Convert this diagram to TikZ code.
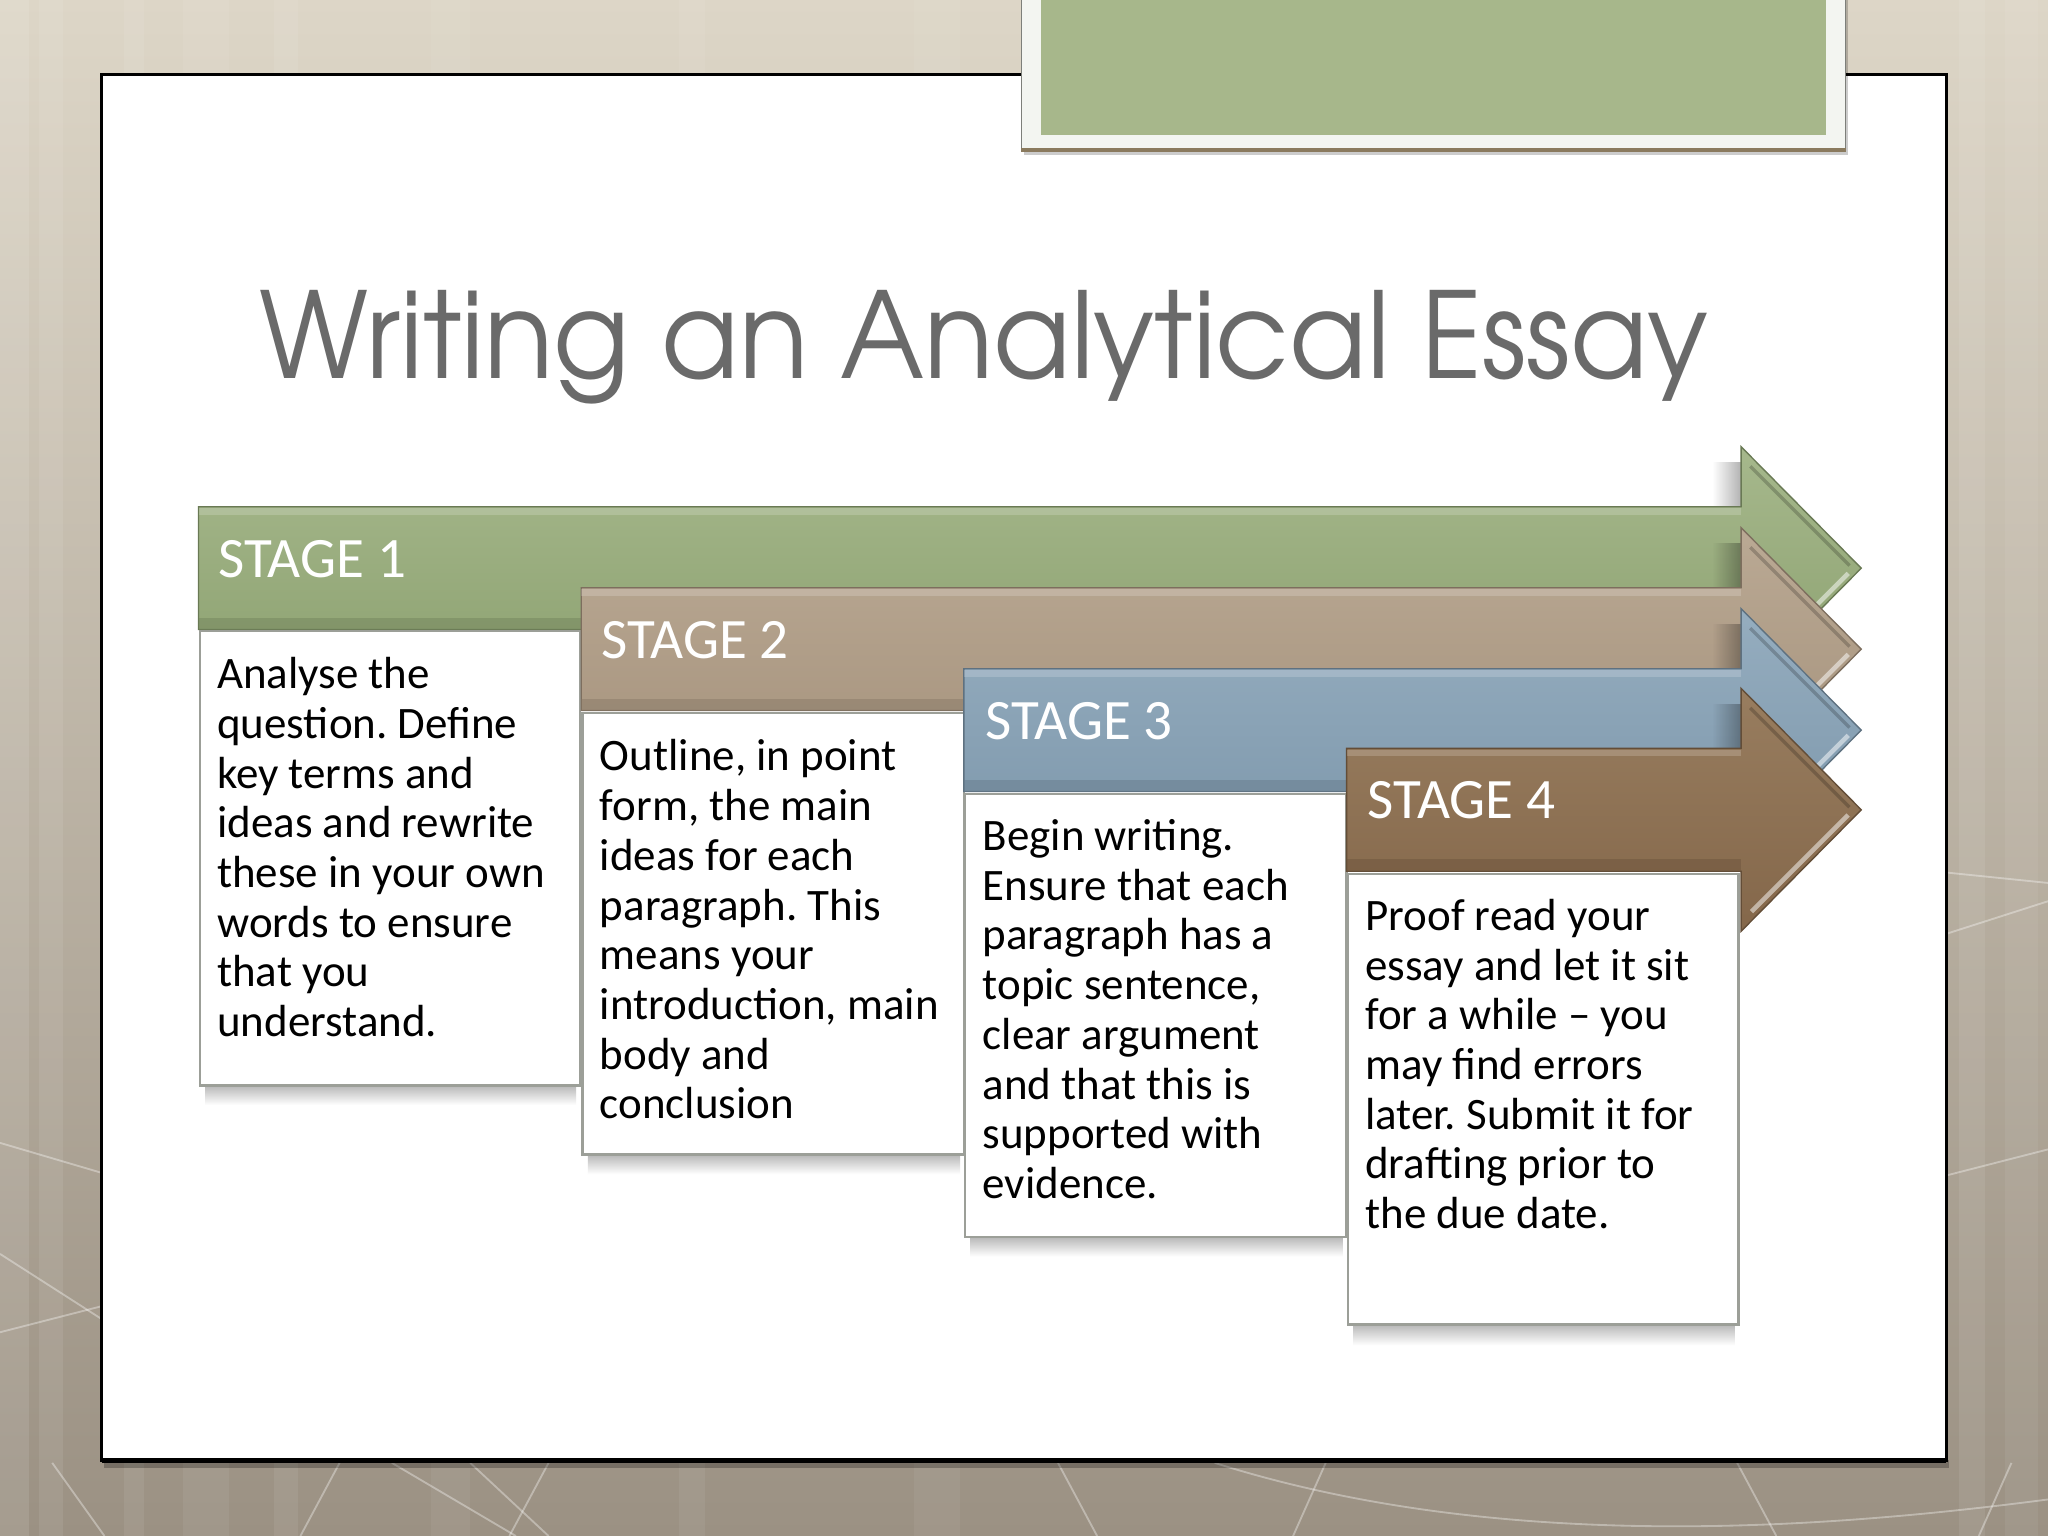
\documentclass[tikz,border=0pt]{standalone}
\usepackage{fontspec}
\setmainfont{Carlito}
\newfontfamily\titlefont[Extension=.otf]{texgyreadventor-regular}
\usetikzlibrary{fadings}
\frenchspacing
\definecolor{bgtop}{HTML}{DDD6C7}
\definecolor{bgbot}{HTML}{9B9183}
\definecolor{titlegray}{HTML}{6A6A6A}
\definecolor{greenA}{HTML}{A6B88C}
\definecolor{greenB}{HTML}{8CA170}
\definecolor{tanA}{HTML}{BAA994}
\definecolor{tanB}{HTML}{A6937D}
\definecolor{blueA}{HTML}{95ADBF}
\definecolor{blueB}{HTML}{7D97AB}
\definecolor{brownA}{HTML}{987D5F}
\definecolor{brownB}{HTML}{84674A}
\definecolor{boxline}{HTML}{9C9F98}
\definecolor{topgreen}{HTML}{A7B78B}
\definecolor{topframe}{HTML}{F3F5F1}
\definecolor{topedge}{HTML}{8A7A5E}
\tikzfading[name=fadeR, left color=transparent!100, right color=transparent!0]
\newcommand\bodysize{\fontsize{19.6pt}{21.66pt}\selectfont\frenchspacing}
\newcommand\stagesize{\fontsize{24.9pt}{28pt}\selectfont}
\newcommand\stagearrow[4]{%
  \fill[black,opacity=0.3,path fading=fadeR] (1311,{#2-34}) rectangle (1333,{#2+2});
  \shadedraw[top color=#3,bottom color=#4,draw=#4!75!black,line width=0.6pt]
    (#1,#2) -- (1333,#2) -- (1333,{#2-46}) -- (1425,{#2+47}) -- (1333,{#2+140})
    -- (1333,{#2+94}) -- (#1,{#2+94}) -- cycle;
  \fill[#4!80!black,opacity=0.45] (#1,{#2+85}) rectangle (1333,{#2+94});
  \fill[white,opacity=0.18] (#1,{#2+1}) rectangle (1333,{#2+6});
  \draw[white,opacity=0.5,line width=2pt] (1415,{#2+51}) -- (1341,{#2+125});
  \draw[black,opacity=0.2,line width=1.5pt] (1340,{#2-31}) -- (1416,{#2+45});
}
\tikzset{
  framebox/.style={draw=boxline, line width=1.1pt, fill=white, inner sep=0pt, anchor=north west},
  bodytext/.style={anchor=north west, inner sep=0pt, align=left, font=\bodysize, text=black},
  stagelabel/.style={anchor=base west, inner sep=0pt, font=\stagesize, text=white},
}
\begin{document}
\begin{tikzpicture}[x=0.02cm,y=-0.02cm]
\useasboundingbox (0,0) rectangle (1568,1176);
% background
\shade[top color=bgtop, bottom color=bgbot] (0,0) rectangle (1568,1176);
\foreach \a/\b/\o in {0/22/0.10, 30/48/0.08, 95/110/0.07, 140/175/0.06, 210/228/0.07, 330/360/0.05, 520/540/0.06, 700/735/0.05, 1500/1520/0.08, 1535/1560/0.06}
  \fill[white,opacity=\o] (\a,0) rectangle (\b,1176);
\begin{scope}[draw=white,opacity=0.35,line width=0.8pt]
  \draw (0,875) -- (78,898);
  \draw (0,960) -- (78,1010);
  \draw (0,1020) -- (78,1000);
  \draw (1490,668) -- (1568,676);
  \draw (1490,715) -- (1568,690);
  \draw (1490,900) -- (1568,880);
  \draw (930,1120) .. controls (1150,1190) and (1400,1170) .. (1568,1148);
  \draw (300,1120) -- (395,1176);
  \draw (360,1120) -- (420,1176);
  \draw (420,1120) -- (390,1176);
  \draw (810,1120) -- (840,1176);
  \draw (1015,1120) -- (990,1176);
  \draw (1330,1120) -- (1360,1176);
  \draw (1540,1120) -- (1515,1176);
  \draw (40,1120) -- (80,1176);
  \draw (260,1120) -- (230,1176);
\end{scope}
% panel
\fill[black,opacity=0.25] (80,1118) rectangle (1492,1124);
\filldraw[fill=white,draw=black,line width=1.3pt] (78,57) rectangle (1490,1118);
\draw[black,line width=2.2pt] (78,1118) -- (1490,1118);
% top green box
\fill[black,opacity=0.2] (784,0) rectangle (1415,119);
\fill[topframe] (782,-2) rectangle (1413,116);
\draw[boxline!80!black,line width=0.6pt] (782,-2) -- (782,116);
\draw[boxline!80!black,line width=0.6pt] (1413,-2) -- (1413,116);
\draw[topedge,line width=1.6pt] (782,115) -- (1413,115);
\fill[topgreen] (797,-2) rectangle (1398,103);
% title
\node[anchor=base west, inner sep=0pt, text=titlegray, font=\titlefont\fontsize{52pt}{60pt}\selectfont] (title) at (198,290) {\scalebox{0.952}[1]{Writing an Analytical Essay}};
% stage 1
\stagearrow{152}{388}{greenA}{greenB}
\node[stagelabel] (s1) at (167,442) {STAGE 1};
\shade[top color=gray!60, bottom color=white] (157,830) rectangle (441,846);
\node[framebox, minimum width=5.82cm, minimum height=6.96cm] (b1) at (152,482) {};
\node[bodytext] (t1) at (166,503) {Analyse the\\question. Define\\key terms and\\ideas and rewrite\\these in your own\\words to ensure\\that you\\understand.};
% stage 2
\stagearrow{445}{450}{tanA}{tanB}
\node[stagelabel] (s2) at (460,504) {STAGE 2};
\shade[top color=gray!60, bottom color=white] (450,883) rectangle (735,899);
\node[framebox, minimum width=5.84cm, minimum height=6.76cm] (b2) at (445,545) {};
\node[bodytext] (t2) at (459,566) {Outline, in point\\form, the main\\ideas for each\\paragraph. This\\means your\\introduction, main\\body and\\conclusion};
% stage 3
\stagearrow{738}{512}{blueA}{blueB}
\node[stagelabel] (s3) at (754,566) {STAGE 3};
\shade[top color=gray!60, bottom color=white] (743,946) rectangle (1028,962);
\node[framebox, minimum width=5.84cm, minimum height=6.78cm] (b3) at (738,607) {};
\node[bodytext] (t3) at (752,627) {Begin writing.\\Ensure that each\\paragraph has a\\topic sentence,\\clear argument\\and that this is\\supported with\\evidence.};
% stage 4
\stagearrow{1031}{573}{brownA}{brownB}
\node[stagelabel] (s4) at (1047,627) {STAGE 4};
\shade[top color=gray!60, bottom color=white] (1036,1013) rectangle (1328,1030);
\node[framebox, minimum width=5.98cm, minimum height=6.9cm] (b4) at (1031,668) {};
\node[bodytext] (t4) at (1045,688) {Proof read your\\essay and let it sit\\for a while – you\\may find errors\\later. Submit it for\\drafting prior to\\the due date.};
\end{tikzpicture}
\end{document}
